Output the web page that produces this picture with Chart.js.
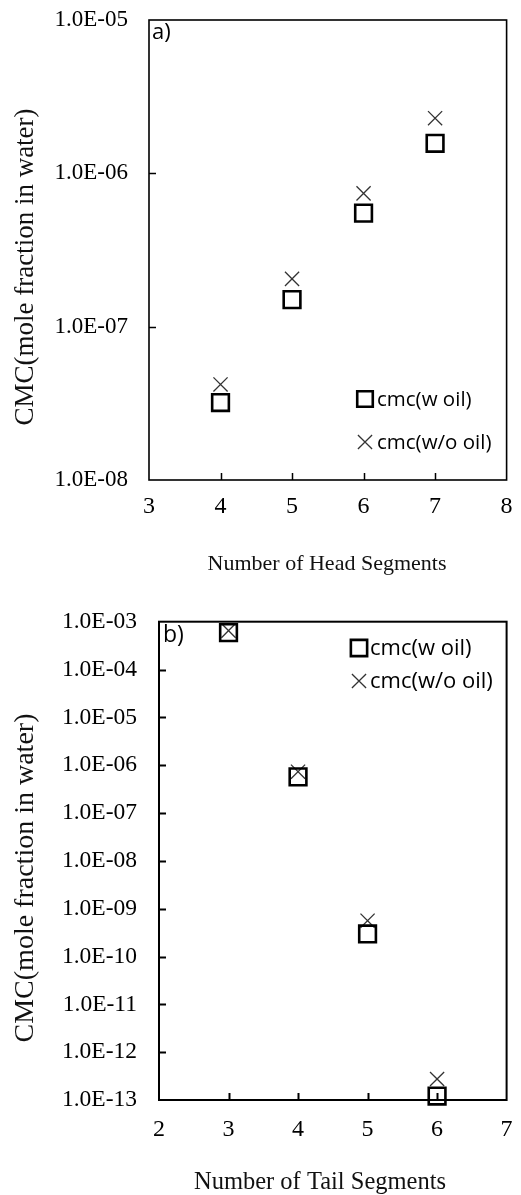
<!DOCTYPE html>
<html><head><meta charset="utf-8">
<script src="https://cdn.jsdelivr.net/npm/chart.js@4.4.1/dist/chart.umd.min.js"></script>
<style>
html,body{margin:0;padding:0;background:#fff;}
#wrap{position:relative;width:521px;height:1195px;overflow:hidden;background:#fff;}
canvas{position:absolute;left:0;}
</style></head><body>
<div id="wrap">
<canvas id="ca" width="521" height="590" style="top:0px"></canvas>
<canvas id="cb" width="521" height="605" style="top:590px"></canvas>
</div>
<script>
// ---- Panel a) data ----
const headSegments = [4, 5, 6, 7];
const cmcHeadWithOil = [3.2e-8, 1.5e-7, 5.5e-7, 1.57e-6];
const cmcHeadWithoutOil = [4.2e-8, 2.05e-7, 7.4e-7, 2.29e-6];
const headXTicks = [3, 4, 5, 6, 7, 8];
const headYTicks = [1e-8, 1e-7, 1e-6, 1e-5];

// ---- Panel b) data ----
const tailSegments = [3, 4, 5, 6];
const cmcTailWithOil = [5.9e-4, 5.7e-7, 2.96e-10, 1.21e-13];
const cmcTailWithoutOil = [6.5e-4, 7.3e-7, 5.6e-10, 2.75e-13];
const tailXTicks = [2, 3, 4, 5, 6, 7];
const tailYTicks = [1e-13, 1e-12, 1e-11, 1e-10, 1e-9, 1e-8, 1e-7, 1e-6, 1e-5, 1e-4, 1e-3];

const seriesLabels = ['cmc(w oil)', 'cmc(w/o oil)'];
const yTitle = 'CMC(mole fraction in water)';

function fmtE(v) {
  const e = Math.round(Math.log10(v));
  return '1.0E' + (e < 0 ? '-' : '+') + String(Math.abs(e)).padStart(2, '0');
}

function zeroPad(s) { s.paddingTop = 0; s.paddingBottom = 0; s.paddingLeft = 0; s.paddingRight = 0; }

const decor = {
  id: 'decor',
  afterDraw(chart, args, o) {
    const { ctx, chartArea: a, scales: { x, y } } = chart;
    ctx.save();
    // inward tick marks
    ctx.strokeStyle = '#000';
    ctx.lineWidth = o.tickWidth;
    ctx.beginPath();
    y.ticks.forEach(t => {
      const py = Math.round(y.getPixelForValue(t.value)) + 0.5;
      if (py > a.top + 2 && py < a.bottom - 2) { ctx.moveTo(a.left, py); ctx.lineTo(a.left + o.tickLen, py); }
    });
    x.ticks.forEach(t => {
      const px = Math.round(x.getPixelForValue(t.value)) + 0.5;
      if (px > a.left + 2 && px < a.right - 2) { ctx.moveTo(px, a.bottom); ctx.lineTo(px, a.bottom - o.tickLen); }
    });
    ctx.stroke();
    // frame
    ctx.lineWidth = o.frameWidth;
    ctx.strokeRect(a.left, a.top, a.right - a.left, a.bottom - a.top);
    // panel label
    ctx.fillStyle = '#000';
    ctx.font = o.panelFont;
    ctx.textAlign = 'left';
    ctx.textBaseline = 'middle';
    ctx.fillText(o.panel, o.panelX, o.panelY);
    // legend
    chart.data.datasets.forEach((ds, i) => {
      const L = o.legend[i];
      const po = chart.getDatasetMeta(i).data[0].options;
      ctx.save();
      ctx.strokeStyle = po.borderColor;
      ctx.fillStyle = 'rgba(0,0,0,0)';
      ctx.lineWidth = po.borderWidth;
      Chart.helpers.drawPoint(ctx, {
        pointStyle: po.pointStyle, radius: L.r, rotation: 0, borderWidth: po.borderWidth
      }, L.mx, L.y);
      ctx.restore();
      ctx.fillStyle = '#000';
      ctx.font = o.legendFont;
      ctx.textAlign = 'left';
      ctx.textBaseline = 'middle';
      ctx.fillText(ds.label, L.tx, L.y + 1);
    });
    // axis titles
    ctx.fillStyle = '#111';
    ctx.font = o.xTitleFont;
    ctx.textAlign = 'center';
    ctx.textBaseline = 'alphabetic';
    ctx.fillText(o.xTitle, o.xTitleX, o.xTitleY);
    ctx.save();
    ctx.translate(o.yTitleX, o.yTitleY);
    ctx.rotate(-Math.PI / 2);
    ctx.font = o.yTitleFont;
    ctx.textBaseline = 'middle';
    ctx.fillText(yTitle, 0, 0);
    ctx.restore();
    ctx.restore();
  }
};

function makeChart(id, xs, s1, s2, xTicks, yTicks, opt) {
  const ctx = document.getElementById(id);
  return new Chart(ctx, {
    type: 'scatter',
    data: {
      datasets: [
        { label: seriesLabels[0], data: xs.map((v, i) => ({ x: v, y: s1[i] })),
          pointStyle: 'rect', pointRadius: 11.8, borderWidth: 2.6, borderColor: '#000',
          backgroundColor: 'rgba(0,0,0,0)', clip: false },
        { label: seriesLabels[1], data: xs.map((v, i) => ({ x: v, y: s2[i] })),
          pointStyle: 'crossRot', pointRadius: 10, borderWidth: 1.3, borderColor: '#333',
          backgroundColor: 'rgba(0,0,0,0)', clip: false }
      ]
    },
    options: {
      responsive: false, animation: false, events: [],
      devicePixelRatio: 1,
      layout: { padding: opt.padding },
      plugins: { legend: { display: false }, tooltip: { enabled: false }, decor: opt.decor },
      scales: {
        x: {
          type: 'linear', min: xTicks[0], max: xTicks[xTicks.length - 1],
          afterBuildTicks: s => { s.ticks = xTicks.map(v => ({ value: v })); },
          afterFit: s => { s.height = opt.xHeight; zeroPad(s); },
          grid: { display: false, drawTicks: false },
          border: { display: false },
          ticks: { color: '#000', padding: opt.xPad, maxRotation: 0, autoSkip: false,
            font: { family: 'Liberation Serif', size: opt.xFont } }
        },
        y: {
          type: 'logarithmic', min: yTicks[0], max: yTicks[yTicks.length - 1],
          afterBuildTicks: s => { s.ticks = yTicks.map(v => ({ value: v })); },
          afterFit: s => { s.width = opt.yWidth; zeroPad(s); },
          grid: { display: false, drawTicks: false },
          border: { display: false },
          ticks: { color: '#000', padding: opt.yPad, autoSkip: false, callback: v => fmtE(v),
            font: { family: 'Liberation Serif', size: opt.yFont } }
        }
      }
    },
    plugins: [decor]
  });
}

makeChart('ca', headSegments, cmcHeadWithOil, cmcHeadWithoutOil, headXTicks, headYTicks, {
  padding: { top: 20, right: 8, left: 0, bottom: 0 },
  xHeight: 110, yWidth: 149, xPad: 12, yPad: 21, xFont: 24, yFont: 23,
  decor: {
    tickLen: 7, tickWidth: 1.5, frameWidth: 1.6,
    panel: 'a)', panelX: 152, panelY: 33, panelFont: '22px "Open Sans"',
    legendFont: '20.5px "Open Sans"',
    legend: [{ mx: 365, tx: 377, y: 399, r: 11 }, { mx: 365, tx: 377, y: 442, r: 10 }],
    xTitle: 'Number of Head Segments', xTitleX: 327, xTitleY: 570, xTitleFont: '22px "Liberation Serif"',
    yTitleX: 25.5, yTitleY: 267, yTitleFont: '27px "Liberation Serif"'
  }
});

makeChart('cb', tailSegments, cmcTailWithOil, cmcTailWithoutOil, tailXTicks, tailYTicks, {
  padding: { top: 31.7, right: 11, left: 0, bottom: 0 },
  xHeight: 95, yWidth: 159, xPad: 15, yPad: 22, xFont: 24, yFont: 23.5,
  decor: {
    tickLen: 7, tickWidth: 2, frameWidth: 2,
    panel: 'b)', panelX: 163, panelY: 45, panelFont: '23px "Open Sans"',
    legendFont: '22px "Open Sans"',
    legend: [{ mx: 359, tx: 370, y: 58, r: 11.5 }, { mx: 359, tx: 370, y: 91, r: 10 }],
    xTitle: 'Number of Tail Segments', xTitleX: 320, xTitleY: 599, xTitleFont: '24.5px "Liberation Serif"',
    yTitleX: 26, yTitleY: 288, yTitleFont: '28px "Liberation Serif"'
  }
});
</script>
</body></html>
